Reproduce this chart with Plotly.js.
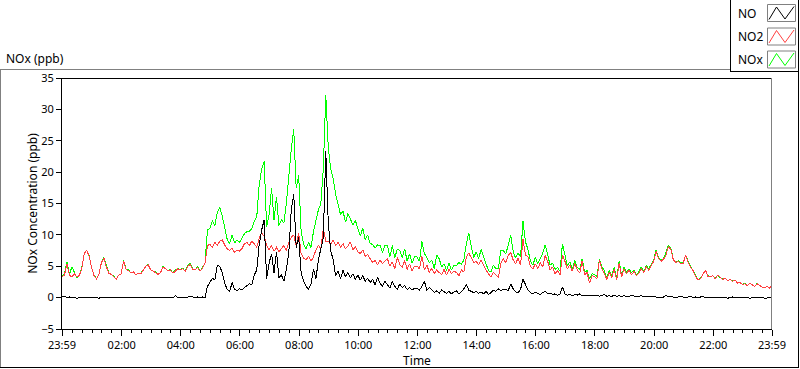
<!DOCTYPE html>
<html><head><meta charset="utf-8">
<script src="https://cdn.plot.ly/plotly-3.0.1.min.js"></script>
<style>html,body{margin:0;padding:0;background:#fff;overflow:hidden}#chart{width:800px;height:369px}
#chart .scatterlayer path.js-line{shape-rendering:crispEdges}</style>
</head><body><div id="chart"></div>
<script>
// ---- data (5-minute samples, starting 23:59) ----
const startTimeMs = Date.UTC(2020, 0, 1, 23, 59, 0);
const stepMinutes = 5;

const no = [
0.1,0.2,0.0,0.1,0.0,0.1,-0.1,0.0,0.1,0.0,0.0,0.1,
0.0,0.1,0.0,-0.1,0.1,0.0,0.0,0.1,0.0,0.0,0.1,0.0,
0.0,0.1,0.0,0.0,0.1,0.0,0.0,0.0,0.1,0.0,0.0,0.1,
0.0,0.0,0.1,0.0,0.0,0.1,0.0,0.0,0.1,0.0,0.3,0.0,
0.1,0.1,0.0,0.1,0.2,0.1,0.0,0.1,0.0,0.1,0.0,1.8,
2.5,3.1,2.8,5.2,5.0,4.0,2.3,1.3,1.0,2.4,1.3,1.1,
1.4,1.2,1.6,1.9,2.2,2.0,3.6,4.4,8.5,10.8,12.4,3.0,
5.5,7.0,4.0,7.3,3.2,3.6,2.6,4.5,7.1,14.0,16.5,8.0,
9.6,4.0,2.6,1.8,1.3,2.2,4.5,3.0,6.0,7.8,9.5,23.3,
12.0,7.5,6.0,3.5,4.2,3.0,4.4,3.3,4.0,3.1,3.8,2.9,
3.6,2.8,3.5,2.6,3.1,2.4,2.9,2.0,3.2,2.3,1.8,2.6,
2.1,1.5,2.6,1.8,1.3,2.2,1.6,1.9,1.3,1.6,1.2,1.5,
1.5,1.2,1.8,2.6,1.2,1.6,1.3,0.8,1.1,0.7,1.2,0.9,
0.7,1.0,0.6,0.9,1.1,0.6,0.9,1.4,2.1,1.2,1.0,0.8,
1.0,0.7,0.9,0.6,1.0,0.5,0.8,1.2,1.0,1.4,1.1,1.3,
1.3,1.1,2.2,1.4,0.9,0.8,1.3,2.9,2.1,1.2,0.8,0.6,
0.9,0.7,0.5,0.8,1.0,0.6,0.7,0.5,0.6,0.4,0.5,1.7,
0.6,0.4,0.5,0.3,0.5,0.4,0.6,0.3,0.4,0.3,0.4,0.3,
0.3,0.4,0.2,0.3,0.5,0.2,0.3,0.2,0.4,0.2,0.3,0.2,
0.3,0.2,0.2,0.4,0.2,0.1,0.2,0.3,0.1,0.2,0.2,0.1,
0.2,0.1,0.1,0.2,0.1,0.4,0.1,0.2,0.1,0.0,0.1,0.2,
0.1,0.0,0.1,0.2,0.0,0.1,0.0,0.1,0.2,0.0,0.1,0.0,
0.0,0.1,0.0,0.0,0.1,0.0,-0.1,0.0,0.1,0.0,0.0,-0.1,
0.0,0.1,0.0,-0.1,0.0,0.0,0.1,0.0,0.0,-0.1,0.0,0.0,
0.0];

const no2 = [
3.3,3.6,5.4,3.6,3.3,3.8,3.3,3.5,4.6,7.0,7.6,6.6,
4.8,3.5,3.0,3.8,5.6,6.3,4.9,3.9,3.7,3.3,2.9,3.6,
3.8,5.8,4.5,4.3,3.9,4.1,3.6,3.9,3.8,4.4,5.0,5.2,
4.4,4.2,4.0,3.7,4.0,4.9,4.6,4.3,4.4,3.9,4.2,4.6,
4.4,4.6,4.2,5.0,5.3,4.5,4.4,4.8,4.2,4.7,5.5,8.3,
8.5,8.0,8.8,8.3,9.0,9.2,8.4,7.8,7.5,7.9,7.2,7.6,
7.4,7.8,8.6,8.8,8.3,9.0,8.6,8.0,9.5,10.3,9.8,8.4,
7.6,8.3,7.4,8.0,7.3,7.8,8.3,7.5,8.8,9.6,10.0,8.2,
10.3,7.0,6.3,6.0,6.6,5.8,6.5,7.6,8.3,7.8,11.0,9.0,
9.0,8.5,9.2,8.3,8.8,8.0,8.6,7.8,8.2,8.9,7.6,8.1,
7.3,7.0,7.6,6.6,6.9,6.2,5.6,5.9,5.2,6.0,5.4,5.8,
6.2,5.0,5.7,4.6,6.4,5.3,4.8,5.9,4.5,5.4,4.3,5.0,
5.0,4.6,6.6,4.4,5.2,4.0,4.7,3.8,4.4,4.0,3.7,4.5,
3.6,4.5,3.8,4.2,4.0,3.5,4.4,4.1,6.5,7.1,6.2,5.6,
5.8,5.2,6.0,5.1,4.4,3.8,3.3,4.0,3.6,3.2,5.4,6.2,
5.6,6.7,7.2,6.0,5.4,6.3,5.2,9.3,6.8,6.5,5.0,4.6,
5.4,4.6,5.6,4.9,6.7,5.8,4.4,4.9,3.8,4.3,3.6,6.8,
5.8,4.6,5.2,4.2,5.5,4.4,3.9,5.9,3.6,4.0,2.3,3.5,
3.4,3.0,6.0,4.6,3.8,2.9,4.1,3.2,4.5,2.8,5.5,3.3,
4.6,3.8,4.4,3.6,4.2,3.5,3.9,4.6,4.0,4.9,4.4,5.2,
5.8,7.4,6.2,5.8,6.1,6.8,8.2,7.6,6.0,5.6,5.8,5.4,
5.5,6.8,5.6,4.8,4.3,3.4,2.8,3.0,3.6,4.4,3.4,3.3,
3.5,3.0,3.6,3.2,2.9,3.1,2.7,2.9,2.6,2.8,2.3,2.4,
2.1,2.2,1.9,2.3,2.0,1.8,2.2,1.9,1.7,1.6,1.8,1.5,
2.0];

const nox = [
3.4,3.8,5.7,3.7,4.9,3.9,3.2,3.5,4.7,7.0,7.6,6.7,
4.8,3.6,3.0,3.8,5.6,6.4,5.0,3.9,3.7,3.4,2.9,3.6,
3.8,5.9,4.5,4.4,3.9,4.1,3.6,3.9,3.9,4.4,5.0,5.3,
4.4,4.2,4.1,3.7,4.0,5.0,4.6,4.3,4.5,3.9,4.5,4.6,
4.5,4.7,4.2,5.1,5.5,4.6,4.4,4.9,4.2,4.8,5.5,10.8,
11.0,12.3,11.5,13.6,14.4,13.0,11.3,9.3,8.6,10.0,8.7,9.2,
8.8,9.4,10.2,10.5,10.6,11.0,12.2,12.9,18.0,20.5,21.7,11.3,
13.2,17.5,12.4,16.0,11.5,12.4,11.9,15.0,19.5,23.6,26.9,17.5,
19.5,10.5,8.5,7.8,8.8,8.0,10.5,12.5,14.0,15.0,20.5,32.3,
24.0,20.5,19.0,16.5,14.8,13.2,13.8,12.0,13.4,12.5,11.6,12.3,
10.9,9.8,11.1,9.2,10.0,8.6,8.5,7.9,8.4,8.3,7.2,8.4,
8.3,6.5,8.3,6.4,7.7,7.5,6.4,7.8,5.8,7.0,5.5,6.5,
6.5,5.8,9.0,7.0,6.4,5.6,6.0,4.6,6.8,6.2,4.9,5.4,
4.3,5.5,4.4,5.1,5.1,5.6,5.3,6.0,8.6,10.3,8.2,6.4,
7.3,6.2,7.7,6.4,5.4,4.3,4.1,5.2,4.6,4.6,7.5,7.5,
7.0,8.3,10.0,7.4,6.3,7.1,6.5,12.2,8.9,7.7,5.8,5.2,
6.4,5.4,6.2,7.1,8.4,6.8,5.2,5.5,4.5,4.8,4.2,8.6,
6.5,5.0,5.7,4.5,6.0,4.8,4.5,6.2,4.0,4.3,3.0,3.8,
3.7,3.4,6.2,4.9,4.3,3.1,4.4,3.4,4.9,3.0,5.8,3.5,
4.9,4.0,4.6,4.0,4.4,3.6,4.1,4.9,4.1,5.1,4.6,5.3,
6.0,7.6,6.3,6.0,6.2,7.2,8.4,7.8,6.1,5.6,5.9,5.6,
5.6,6.8,5.7,5.0,4.3,3.5,2.8,3.1,3.8,4.4,3.5,3.3,
3.5,3.1,3.6,3.2,3.0,3.1,2.7,2.9,2.7,2.8,2.3,2.4,
2.1,2.3,1.9,2.3,2.0,1.8,2.3,1.9,1.7,1.6,1.8,1.5,
2.0];

const tickTimes = ['2020-01-01 23:59','2020-01-02 02:00','2020-01-02 04:00','2020-01-02 06:00',
  '2020-01-02 08:00','2020-01-02 10:00','2020-01-02 12:00','2020-01-02 14:00','2020-01-02 16:00',
  '2020-01-02 18:00','2020-01-02 20:00','2020-01-02 22:00','2020-01-02 23:59'];
const tickLabels = ['23:59','02:00','04:00','06:00','08:00','10:00','12:00','14:00','16:00','18:00','20:00','22:00','23:59'];
const yTicks = [-5, 0, 5, 10, 15, 20, 25, 30, 35];
const seriesNames = ['NO', 'NO2', 'NOx'];
const seriesColors = ['#000000', '#ff4040', '#00ff00'];

// ---- build ----
function fmt(ms){ return new Date(ms).toISOString().slice(0,19).replace('T',' '); }
const times = no.map((_, i) => fmt(startTimeMs + i * stepMinutes * 60000));
const endTime = fmt(startTimeMs + 24 * 3600000);

const W = 800, H = 369, ML = 62, MR = 28, MT = 78, MB = 40;
const PW = W - ML - MR, PH = H - MT - MB;
const X = px => (px - ML) / PW;
const Y = py => (H - MB - py) / PH;
const FONT = 'Noto Sans, Open Sans, sans-serif';

const traces = [
  {x: times, y: nox, name: seriesNames[2], mode: 'lines', line: {color: seriesColors[2], width: 1}},
  {x: times, y: no2, name: seriesNames[1], mode: 'lines', line: {color: seriesColors[1], width: 1}},
  {x: times, y: no,  name: seriesNames[0], mode: 'lines', line: {color: seriesColors[0], width: 1}}
];

function hline(x0, x1, y, color){ return {type:'line', xref:'paper', yref:'paper', x0:X(x0), x1:X(x1), y0:Y(y), y1:Y(y), line:{color, width:1}}; }
function vline(x, y0, y1, color){ return {type:'line', xref:'paper', yref:'paper', x0:X(x), x1:X(x), y0:Y(y0), y1:Y(y1), line:{color, width:1}}; }

const shapes = [
  hline(0, 730, 69.5, '#808080'),
  vline(0.5, 69, 368, '#808080'),
  hline(0, 799, 367.5, '#000000'),
  vline(798.5, 0, 368, '#000000'),
  vline(730.5, 0, 72, '#000000'),
  hline(730, 799, 71.5, '#000000'),
  hline(62, 772, 78.5, '#000000'),
  vline(771.5, 78, 329, '#808080')
];
const annotations = [
  {text:'NOx (ppb)', xref:'paper', yref:'paper', x:X(4), y:Y(58), xanchor:'left', yanchor:'middle', showarrow:false, font:{family:FONT, size:12, color:'#000'}}
];
// legend drawn as a LabVIEW-style plot legend (label left, icon right)
const legendRowsY = [13, 36.5, 59.5];
seriesNames.forEach((name, k) => {
  const cy = legendRowsY[k];
  annotations.push({text:name, xref:'paper', yref:'paper', x:X(736), y:Y(cy), xanchor:'left', yanchor:'middle', showarrow:false, font:{family:FONT, size:12, color:'#000'}});
  const x0 = 767.5, x1 = 795.5, y0 = cy - 8.5, y1 = cy + 8.5;
  shapes.push({type:'rect', xref:'paper', yref:'paper', x0:X(x0), x1:X(x1), y0:Y(y0), y1:Y(y1), line:{color:'#808080', width:1}, fillcolor:'#ffffff'});
  const pts = [[769, y1-2], [776.5, y0+2.5], [785, y1-2.5], [794, y0+2]];
  const path = 'M ' + pts.map(p => X(p[0]) + ' ' + Y(p[1])).join(' L ');
  shapes.push({type:'path', xref:'paper', yref:'paper', path, line:{color:seriesColors[k], width:1}});
});

const layout = {
  width: W, height: H,
  margin: {l: ML, r: MR, t: MT, b: MB, pad: 0},
  paper_bgcolor: '#ffffff', plot_bgcolor: '#ffffff',
  showlegend: false,
  font: {family: FONT, size: 11, color: '#000'},
  xaxis: {
    type: 'date', range: [times[0], endTime],
    tickmode: 'array', tickvals: tickTimes, ticktext: tickLabels,
    ticks: 'outside', ticklen: 6, tickcolor: '#000', tickwidth: 1,
    minor: {ticks: 'outside', ticklen: 3, tickcolor: '#000', tickmode: 'linear', tick0: '2020-01-02 00:00', dtick: 20 * 60000, showgrid: false},
    showgrid: false, zeroline: false, showline: true, linecolor: '#000', linewidth: 1,
    tickfont: {family: FONT, size: 11, color: '#000'},
    title: {text: 'Time', font: {family: FONT, size: 12, color: '#000'}, standoff: 3},
    fixedrange: true
  },
  yaxis: {
    range: [-5, 35], tickmode: 'array', tickvals: yTicks,
    ticks: 'outside', ticklen: 5, tickcolor: '#000', tickwidth: 1,
    showgrid: false, zeroline: false, showline: true, linecolor: '#000', linewidth: 1,
    tickfont: {family: FONT, size: 11, color: '#000'},
    title: {text: 'NOx Concentration (ppb)', font: {family: FONT, size: 12, color: '#000'}, standoff: 1},
    fixedrange: true
  },
  shapes, annotations
};
Plotly.newPlot('chart', traces, layout, {displayModeBar: false, staticPlot: true});
</script></body></html>
